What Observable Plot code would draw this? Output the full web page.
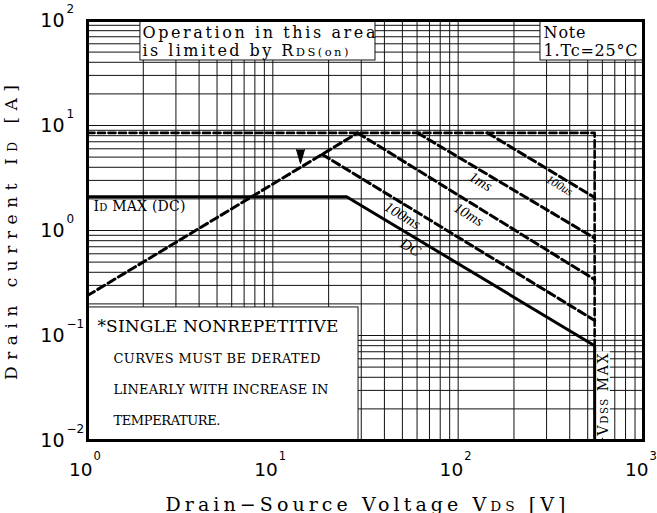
<!DOCTYPE html>
<html>
<head>
<meta charset="utf-8">
<script src="https://cdn.jsdelivr.net/npm/d3@7"></script>
<script src="https://cdn.jsdelivr.net/npm/@observablehq/plot@0.6"></script>
<style>
  html, body { margin: 0; padding: 0; background: #fff; }
</style>
</head>
<body>
<div id="chart"></div>
<script>
// ---- tick labels ----
const xDecades = [1, 10, 100, 1000];
const xExponents = ["0", "1", "2", "3"];
const yDecades = [0.01, 0.1, 1, 10, 100];
const yExponents = ["\u22122", "\u22121", "0", "1", "2"];
const gridMultipliers = [1, 2, 3, 4, 5, 6, 7, 8, 9];

// ---- curves (VDS [V], ID [A]) ----
const dcV = [1, 25, 545, 545];
const dcI = [2.1, 2.1, 0.08, 0.01];
const envelopeV = [1, 545, 545];
const envelopeI = [8.5, 8.5, 0.08];
const rdsV = [1, 28.7];
const rdsI = [0.24, 8.5];
const us100V = [144, 545];
const us100I = [8.5, 2.06];
const ms1V = [60.4, 545];
const ms1I = [8.5, 0.845];
const ms10V = [28.7, 545];
const ms10I = [8.5, 0.341];
const ms100V = [18.5, 545];
const ms100I = [5.3, 0.139];

// ---- curve labels ----
const curveLabels = ["1ms", "10ms", "100ms", "100us", "DC"];
const curveLabelV = [132, 114, 50.1, 352, 55.3];
const curveLabelI = [2.93, 1.42, 1.39, 2.68, 0.69];

// ---- annotation boxes ----
const boxX1 = [1.93, 278, 1];
const boxX2 = [35.8, 1000, 29];
const boxY1 = [41.6, 41.6, 0.01];
const boxY2 = [100, 100, 0.185];

// ---- annotation texts ----
const opLines = ["Operation in this area", "is limited by RDS(on)"];
const opLineV = [1.98, 1.98];
const opLineI = [68.1, 46.4];
const noteLines = ["Note", "1.Tc=25°C"];
const noteLineV = [289, 289];
const noteLineI = [68.1, 46.4];
const warnLines = ["CURVES MUST BE DERATED", "LINEARLY WITH INCREASE IN", "TEMPERATURE."];
const warnLineV = [1.381, 1.381, 1.381];
const warnLineI = [0.0553, 0.0280, 0.0139];

const rows = (xs, ys) => xs.map((x, i) => ({x, y: ys[i]}));
const xGrid = [1, 10, 100].flatMap(d => gridMultipliers.map(m => m * d)).concat([1000]);
const yGrid = [0.01, 0.1, 1, 10].flatMap(d => gridMultipliers.map(m => m * d)).concat([100]);
const boxes = boxX1.map((x1, i) => ({x1, x2: boxX2[i], y1: boxY1[i], y2: boxY2[i]}));

const serif = "DejaVu Serif";
const dashed = {x: "x", y: "y", stroke: "black", strokeWidth: 3, strokeDasharray: "8,4"};

const plot = Plot.plot({
  width: 657,
  height: 513,
  marginLeft: 87,
  marginRight: 14,
  marginTop: 20,
  marginBottom: 73,
  style: {background: "white", color: "black"},
  x: {type: "log", domain: [1, 1000], axis: null},
  y: {type: "log", domain: [0.01, 100], axis: null},
  marks: [
    Plot.ruleX(xGrid, {stroke: "#111", strokeWidth: 1}),
    Plot.ruleY(yGrid, {stroke: "#111", strokeWidth: 1}),
    Plot.rect(boxes, {x1: "x1", x2: "x2", y1: "y1", y2: "y2", fill: "white", stroke: "#111", strokeWidth: 1}),
    Plot.rect([0], {x1: 556, x2: 662, y1: 0.0105, y2: 0.07, fill: "white"}),
    // SOA curves
    Plot.line(rows(envelopeV, envelopeI), {...dashed, strokeWidth: 2.6, strokeDasharray: "7,3.5"}),
    Plot.line(rows(rdsV, rdsI), dashed),
    Plot.line(rows(us100V, us100I), dashed),
    Plot.line(rows(ms1V, ms1I), dashed),
    Plot.line(rows(ms10V, ms10I), dashed),
    Plot.line(rows(ms100V, ms100I), dashed),
    Plot.line(rows(dcV, dcI), {x: "x", y: "y", stroke: "black", strokeWidth: 3}),
    Plot.vector([0], {x: 14.1, y: 5.9, length: 14, r: 4, shape: "spike", anchor: "start", rotate: 180, fill: "black", stroke: "black", strokeWidth: 1}),
    // curve labels
    Plot.text(curveLabels, {x: curveLabelV, y: curveLabelI, text: d => d, rotate: 31,
      fontFamily: "Liberation Serif", fontStyle: "italic",
      fontSize: (d) => d === "100us" ? 12 : 15, fill: "black"}),
    Plot.text(["VDSS MAX"], {x: 609, y: 0.0274, text: d => d, rotate: -90, fontFamily: serif, fontSize: 14, fill: "black"}),
    Plot.text(["ID MAX (DC)"], {x: 1.077, y: 1.55, text: d => d, textAnchor: "start", lineAnchor: "bottom", fontFamily: serif, fontSize: 14, fill: "black"}),
    // boxes text
    Plot.text(opLines, {x: opLineV, y: opLineI, text: d => d, textAnchor: "start", lineAnchor: "bottom", fontFamily: serif, fontSize: 16, fill: "black"}),
    Plot.text(noteLines, {x: noteLineV, y: noteLineI, text: d => d, textAnchor: "start", lineAnchor: "bottom", fontFamily: serif, fontSize: 16, fill: "black"}),
    Plot.text(["*SINGLE NONREPETITIVE"], {x: 1.132, y: 0.107, text: d => d, textAnchor: "start", lineAnchor: "bottom", fontFamily: serif, fontSize: 17, fill: "black"}),
    Plot.text(warnLines, {x: warnLineV, y: warnLineI, text: d => d, textAnchor: "start", lineAnchor: "bottom", fontFamily: serif, fontSize: 13, fill: "black"}),
    Plot.frame({stroke: "black", strokeWidth: 3}),
    // tick labels
    Plot.text(xDecades, {x: d => d, text: () => "10", frameAnchor: "bottom", dy: 35, dx: 5, textAnchor: "end", lineAnchor: "bottom", fontFamily: "DejaVu Sans", fontSize: 18.5, fill: "black"}),
    Plot.text(xDecades, {x: d => d, text: (d, i) => xExponents[i], frameAnchor: "bottom", dy: 19, dx: 6, textAnchor: "start", lineAnchor: "bottom", fontFamily: "DejaVu Sans", fontSize: 11.5, fill: "black"}),
    Plot.text(yDecades, {y: d => d, text: () => "10", frameAnchor: "left", dx: -23, textAnchor: "end", lineAnchor: "middle", fontFamily: "DejaVu Sans", fontSize: 19, fill: "black"}),
    Plot.text(yDecades, {y: d => d, text: (d, i) => yExponents[i], frameAnchor: "left", dx: -21, dy: -11, textAnchor: "start", lineAnchor: "middle", fontFamily: "DejaVu Sans", fontSize: 12, fill: "black"}),
    // axis titles
    Plot.text(["Drain\u2212Source Voltage VDS [V]"], {frameAnchor: "bottom", dy: 70, textAnchor: "middle", lineAnchor: "bottom", fontFamily: serif, fontSize: 19, fill: "black"}),
    Plot.text(["Drain current ID [A]"], {frameAnchor: "left", dx: -71, dy: 2, rotate: -90, textAnchor: "middle", lineAnchor: "bottom", fontFamily: serif, fontSize: 17, fill: "black"})
  ]
});

// rich text (subscripts) and spacing to match the original lettering
const rich = {
  "Drain current ID [A]": [["Drain current I"], ["D", 1], [" [A]"]],
  "Drain\u2212Source Voltage VDS [V]": [["Drain\u2212Source Voltage V"], ["DS", 1], [" [V]"]],
  "is limited by RDS(on)": [["is limited by R"], ["DS(on)", 1]],
  "ID MAX (DC)": [["I"], ["D", 1], [" MAX (DC)"]],
  "VDSS MAX": [["V"], ["DSS", 1], [" MAX"]]
};
const lengths = {
  "Drain current ID [A]": 295,
  "Drain\u2212Source Voltage VDS [V]": 400,
  "Operation in this area": 233,
  "is limited by RDS(on)": 206,
  "Note": 42,
  "1.Tc=25°C": 94,
  "ID MAX (DC)": 92,
  "*SINGLE NONREPETITIVE": 241,
  "CURVES MUST BE DERATED": 207,
  "LINEARLY WITH INCREASE IN": 215,
  "TEMPERATURE.": 107,
  "VDSS MAX": 82
};
const ns = "http://www.w3.org/2000/svg";
plot.querySelectorAll("text").forEach(t => {
  const s = t.textContent;
  if (lengths[s]) {
    t.setAttribute("textLength", lengths[s]);
    t.setAttribute("lengthAdjust", "spacing");
  }
  if (rich[s]) {
    while (t.firstChild) t.removeChild(t.firstChild);
    rich[s].forEach(([str, small]) => {
      const ts = document.createElementNS(ns, "tspan");
      ts.textContent = str;
      if (small) ts.setAttribute("font-size", "72%");
      t.appendChild(ts);
    });
  }
});
document.getElementById("chart").appendChild(plot);
</script>
</body>
</html>
